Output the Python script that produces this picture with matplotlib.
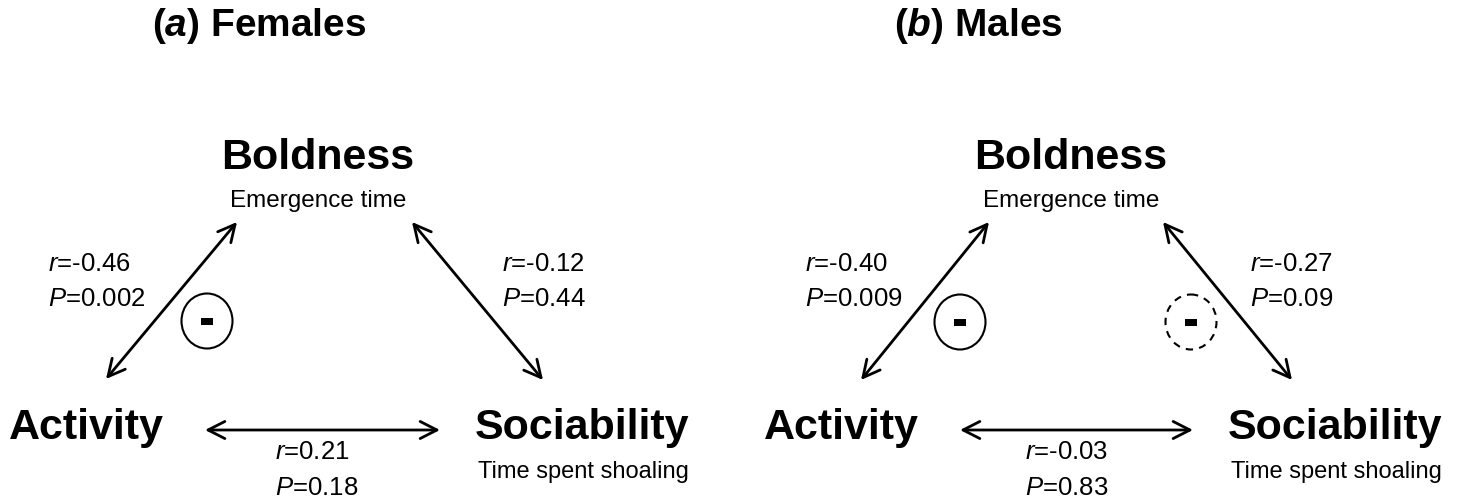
import matplotlib
matplotlib.use("Agg")
import matplotlib.pyplot as plt
from matplotlib.patches import FancyArrowPatch, Ellipse, Rectangle

plt.rcParams['font.family'] = ['Liberation Sans', 'DejaVu Sans']
plt.rcParams['mathtext.fontset'] = 'custom'
plt.rcParams['mathtext.rm'] = 'Liberation Sans'
plt.rcParams['mathtext.it'] = 'Liberation Sans:italic'
plt.rcParams['mathtext.bf'] = 'Liberation Sans:bold'
plt.rcParams['mathtext.bfit'] = 'Liberation Sans:italic:bold'

# ---- data ----
panel_letters = ['a', 'b']
panel_names = ['Females', 'Males']
traits = ['Boldness', 'Activity', 'Sociability']
trait_measures = ['Emergence time', '', 'Time spent shoaling']
# correlations: Activity-Boldness, Boldness-Sociability, Activity-Sociability
r_act_bold = ['-0.46', '-0.40']
p_act_bold = ['0.002', '0.009']
r_bold_soc = ['-0.12', '-0.27']
p_bold_soc = ['0.44', '0.09']
r_act_soc = ['0.21', '-0.03']
p_act_soc = ['0.18', '0.83']
# negative-sign markers: (Activity-Boldness, Boldness-Sociability); 'solid', 'dashed' or None
neg_marks = [('solid', None), ('solid', 'dashed')]

fig = plt.figure(figsize=(14.65, 4.99), dpi=100)
ax = fig.add_axes([0, 0, 1, 1])
ax.set_xlim(0, 1465)
ax.set_ylim(499, 0)
ax.axis('off')

# layout (pixel positions per panel)
title_x = [259, 978]
bold_x = [318, 1071]
act_x = [86, 841]
soc_x = [582, 1335]
arrows_left = [((106, 379), (237, 222)), ((861, 380), (989, 222))]
arrows_right = [((412, 222), (543, 380)), ((1163, 222), (1292, 380))]
arrows_bottom = [((205, 430), (440, 430)), ((960, 430), (1193, 430))]
stat_left_x = [48, 805]
stat_right_x = [502, 1250]
stat_bottom_x = [275, 1025]
circ_left = [(207, 321), (960, 322)]
circ_right = [None, (1191, 322)]


def arrow(p0, p1):
    a = FancyArrowPatch(p0, p1, arrowstyle='<->,head_length=0.55,head_width=0.28',
                        mutation_scale=22, lw=2.0, color='black',
                        shrinkA=0, shrinkB=0)
    ax.add_patch(a)


def neg_marker(cx, cy, style):
    ls = '-' if style == 'solid' else (0, (3.5, 3))
    ax.add_patch(Ellipse((cx, cy), 51, 55, fill=False, lw=1.5, ls=ls, color='black'))
    ax.add_patch(Rectangle((cx - 6, cy - 3.5), 12, 7, color='black', lw=0))


for i in range(2):
    ax.text(title_x[i], 26, r'($\mathbfit{%s}$) %s' % (panel_letters[i], panel_names[i]),
            fontsize=28, fontweight='bold', ha='center', va='center')
    # nodes
    ax.text(bold_x[i], 158, traits[0], fontsize=31, fontweight='bold', ha='center', va='center')
    ax.text(bold_x[i], 201, trait_measures[0], fontsize=17.5, ha='center', va='center')
    ax.text(act_x[i], 428, traits[1], fontsize=31, fontweight='bold', ha='center', va='center')
    ax.text(soc_x[i], 428, traits[2], fontsize=31, fontweight='bold', ha='center', va='center')
    ax.text(soc_x[i] + 1, 472, trait_measures[2], fontsize=17, ha='center', va='center')
    # arrows
    arrow(*arrows_left[i])
    arrow(*arrows_right[i])
    arrow(*arrows_bottom[i])
    # stats
    ax.text(stat_left_x[i], 264, r'$\mathit{r}$=' + r_act_bold[i], fontsize=18.5, ha='left', va='center')
    ax.text(stat_left_x[i], 299, r'$\mathit{P}$=' + p_act_bold[i], fontsize=18.5, ha='left', va='center')
    ax.text(stat_right_x[i], 264, r'$\mathit{r}$=' + r_bold_soc[i], fontsize=18.5, ha='left', va='center')
    ax.text(stat_right_x[i], 299, r'$\mathit{P}$=' + p_bold_soc[i], fontsize=18.5, ha='left', va='center')
    ax.text(stat_bottom_x[i], 452, r'$\mathit{r}$=' + r_act_soc[i], fontsize=18.5, ha='left', va='center')
    ax.text(stat_bottom_x[i], 488, r'$\mathit{P}$=' + p_act_soc[i], fontsize=18.5, ha='left', va='center')
    # negative markers
    if neg_marks[i][0]:
        neg_marker(*circ_left[i], neg_marks[i][0])
    if neg_marks[i][1]:
        neg_marker(*circ_right[i], neg_marks[i][1])

fig.savefig('out.png', dpi=100)
